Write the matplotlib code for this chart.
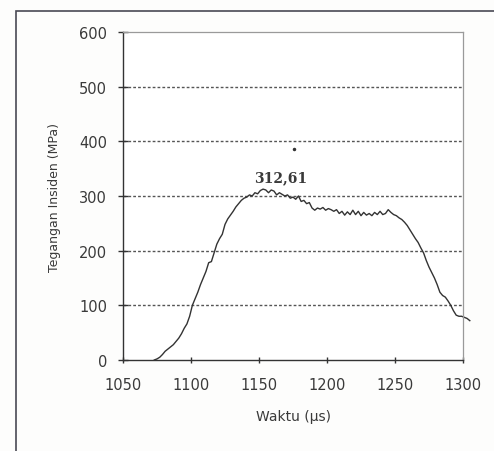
import matplotlib
matplotlib.use("Agg")
import matplotlib.pyplot as plt
from matplotlib.patches import Rectangle

# incident stress vs time
TIME_US = [
    1073, 1075, 1077, 1079, 1081, 1083, 1085, 1087, 1089, 1091,
    1093, 1095, 1097, 1099, 1101, 1103, 1105, 1107, 1109, 1111,
    1113, 1115, 1117, 1119, 1121, 1123, 1125, 1127, 1129, 1131,
    1133, 1135, 1137, 1139, 1141, 1143, 1145, 1147, 1149, 1151,
    1153, 1155, 1157, 1159, 1161, 1163, 1165, 1167, 1169, 1171,
    1173, 1175, 1177, 1179, 1181, 1183, 1185, 1187, 1189, 1191,
    1193, 1195, 1197, 1199, 1201, 1203, 1205, 1207, 1209, 1211,
    1213, 1215, 1217, 1219, 1221, 1223, 1225, 1227, 1229, 1231,
    1233, 1235, 1237, 1239, 1241, 1243, 1245, 1247, 1249, 1251,
    1253, 1255, 1257, 1259, 1261, 1263, 1265, 1267, 1269, 1271,
    1273, 1275, 1277, 1279, 1281, 1283, 1285, 1287, 1289, 1291,
    1293, 1295, 1297, 1299, 1301, 1303, 1305,
]
STRESS_MPA = [
    0, 2, 5, 10, 16, 20, 24, 28, 34, 40,
    48, 58, 66, 80, 100, 112, 124, 138, 150, 162,
    178, 180, 196, 212, 222, 230, 248, 258, 265, 272,
    280, 286, 292, 296, 298, 302, 300, 306, 304, 310,
    312.61, 311, 306, 311, 309, 302, 306, 303, 300, 302,
    296, 298, 294, 300, 290, 292, 286, 288, 278, 274,
    278, 276, 279, 274, 277, 275, 272, 275, 268, 272,
    265, 271, 266, 274, 266, 272, 264, 270, 265, 268,
    264, 270, 266, 272, 266, 268, 275, 270, 266, 264,
    260, 257, 252, 246, 238, 230, 222, 215, 205, 196,
    182, 170, 160, 150, 138, 124, 118, 115, 108, 100,
    90, 82, 80, 80, 78, 76, 72,
]
PEAK_LABEL = "312,61"
X_TICKS = [1050, 1100, 1150, 1200, 1250, 1300]
Y_TICKS = [0, 100, 200, 300, 400, 500, 600]

INK = "#333333"

fig = plt.figure(figsize=(4.94, 4.52), dpi=100)
fig.patch.set_facecolor("#fdfdfc")

# scanned chart-area frame
fig.patches.append(Rectangle((16 / 494, -0.05), 1.2, 1 - 12 / 452 + 0.05,
                             transform=fig.transFigure, fill=False,
                             edgecolor="#4a4a55", lw=1.2))

ax = fig.add_axes([123 / 494, 1 - 361 / 452, 340 / 494, 328 / 452])
ax.set_facecolor("white")
ax.plot(TIME_US, STRESS_MPA, color=INK, lw=1.0, clip_on=False)
ax.plot([1175.5], [386], marker="o", ms=1.5, color=INK)

ax.set_xlim(1050, 1300)
ax.set_ylim(0, 600)
ax.set_xticks(X_TICKS)
ax.set_yticks(Y_TICKS)
for v in Y_TICKS[1:-1]:
    ax.axhline(v, color="#555555", lw=1.0, ls=(0, (2, 1.5)), zorder=0)

for side in ("top", "right"):
    ax.spines[side].set_color("#9a9a9a")
    ax.spines[side].set_linewidth(0.9)
for side in ("left", "bottom"):
    ax.spines[side].set_color(INK)
    ax.spines[side].set_linewidth(1.0)

ax.tick_params(direction="inout", length=7, width=1.0, color=INK,
               labelsize=10.5, labelcolor="#3a3a3a", pad=8)
ax.tick_params(axis="x", length=5, pad=10)

ax.text(1166, 334, PEAK_LABEL, ha="center", va="center", fontsize=10,
        fontweight="bold", family="DejaVu Serif", color="#3a3a3a")

ax.set_xlabel("Waktu (\u00b5s)", fontsize=10, color="#3a3a3a", labelpad=12)
ax.set_ylabel("Tegangan Insiden (MPa)", fontsize=9, color="#3a3a3a",
              labelpad=13)

fig.savefig("out.png", dpi=100, facecolor=fig.get_facecolor())
